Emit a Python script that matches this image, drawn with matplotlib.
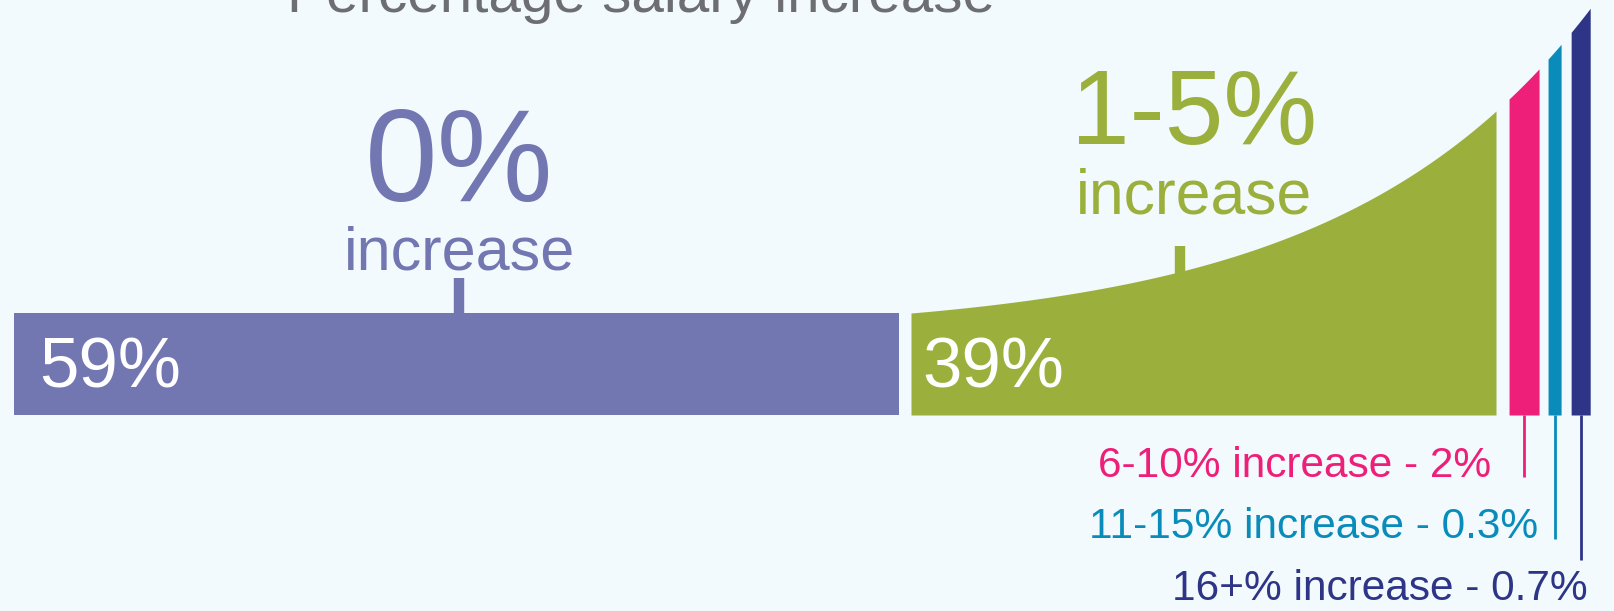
import numpy as np
import matplotlib.pyplot as plt

plt.rcParams['font.family'] = ['Liberation Sans', 'DejaVu Sans']

# data
shares = [59, 39, 2, 0.3, 0.7]
bar_labels = ['59%', '39%']
big_labels = ['0%', '1-5%']
small_labels = ['6-10% increase - 2%', '11-15% increase - 0.3%', '16+% increase - 0.7%']
title = 'Percentage salary increase'
colors = ['#7276b1', '#9bb03c', '#ee1f79', '#0a8cbb', '#2e3587']
bg = '#f2fafd'

# layout (x in percent units, y in pixels from the bottom)
gaps = [0.8, 0.87, 0.6, 0.67]
base = 196
h0, rise, k = 102, 202, 2.35

widths = [v if v >= 1 else v + 0.57 for v in shares]
lefts = [0.0]
for w, g in zip(widths[:-1], gaps):
    lefts.append(lefts[-1] + w + g)

g0, gw = lefts[1], widths[1]


def top(u):
    f = (u - g0) / gw
    return base + h0 + rise * (np.exp(k * f) - 1) / (np.exp(k) - 1)


fig = plt.figure(figsize=(16.15, 6.11), dpi=100, facecolor=bg)
ax = fig.add_axes([0, 0, 1, 1])
ax.set_facecolor(bg)
ax.set_xlim(-14 / 15, (1615 - 14) / 15)
ax.set_ylim(0, 611)
ax.axis('off')

# purple flat bar
ax.fill_between([lefts[0], lefts[0] + widths[0]], base, base + h0, color=colors[0], lw=0)
# curved bars
for i in range(1, 5):
    xs = np.linspace(lefts[i], lefts[i] + widths[i], 200)
    ax.fill_between(xs, base, top(xs), color=colors[i], lw=0)

# big labels with ticks
tick_frac = [0.503, 0.46]
text_frac = [0.5, 0.484]
tick_len = [35, 26]
big_sizes = [94, 76]
big_base = [410, 467]
inc_base = [341, 398]
inc_sizes = [44, 45]
for i in range(2):
    tx = lefts[i] + tick_frac[i] * widths[i]
    ty = base + h0 if i == 0 else top(tx)
    ax.plot([tx, tx], [ty - 2, ty + tick_len[i]], color=colors[i], lw=7.5, solid_capstyle='butt')
    lx = tx if i == 0 else lefts[i] + text_frac[i] * widths[i]
    ax.text(lx, big_base[i], big_labels[i], color=colors[i], fontsize=big_sizes[i],
            ha='center', va='baseline')
    ax.text(lx, inc_base[i], 'increase', color=colors[i], fontsize=inc_sizes[i],
            ha='center', va='baseline')

# values inside bars
in_off = [1.7, 0.75]
for i in range(2):
    ax.text(lefts[i] + in_off[i], 223, bar_labels[i], color='white', fontsize=51,
            ha='left', va='baseline')

# small bars: drop lines and labels
line_end = [134, 72, 51]
lab_off = [-2.2, -1.1, 0.45]
lab_base = [134, 73, 11]
for j in range(3):
    i = j + 2
    cx = lefts[i] + widths[i] / 2
    ax.plot([cx, cx], [base, line_end[j]], color=colors[i], lw=2, solid_capstyle='butt')
    ax.text(cx + lab_off[j], lab_base[j], small_labels[j], color=colors[i], fontsize=30.5,
            ha='right', va='baseline')

# title, cut off at the top edge
ax.text(41.8, 599, title, color='#6d6e71', fontsize=42, ha='center', va='baseline')

fig.savefig('out.png', dpi=100, facecolor=bg)
